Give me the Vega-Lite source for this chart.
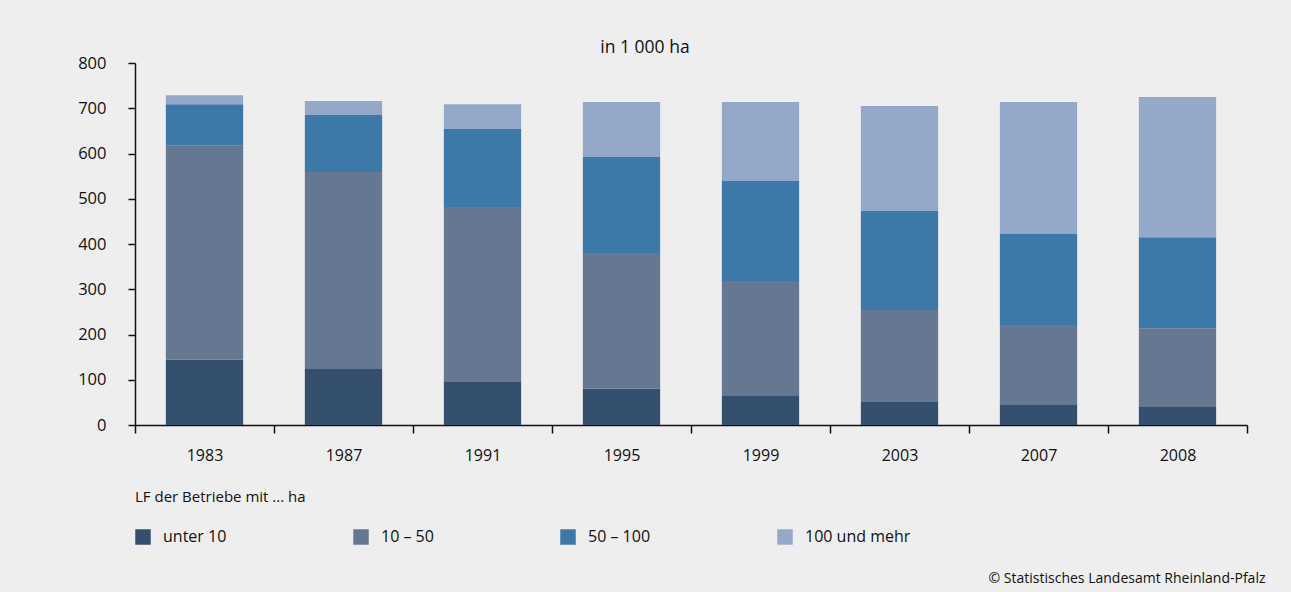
{
  "$schema": "https://vega.github.io/schema/vega-lite/v6.json",
  "autosize": {"type": "none"},
  "width": 1112,
  "height": 362,
  "padding": {"left": 135, "top": 63, "right": 44, "bottom": 167},
  "background": "#eeeeee",
  "title": {
    "text": "in 1 000 ha",
    "anchor": "middle",
    "frame": "group",
    "dx": -46,
    "offset": -15,
    "baseline": "alphabetic",
    "font": "Open Sans",
    "fontSize": 17.5,
    "fontWeight": "normal",
    "color": "#111111"
  },
  "data": {
    "values": [
      {"year": "1983", "group": "unter 10", "rank": 1, "value": 144},
      {"year": "1983", "group": "10 – 50", "rank": 2, "value": 473},
      {"year": "1983", "group": "50 – 100", "rank": 3, "value": 92},
      {"year": "1983", "group": "100 und mehr", "rank": 4, "value": 20},
      {"year": "1987", "group": "unter 10", "rank": 1, "value": 124},
      {"year": "1987", "group": "10 – 50", "rank": 2, "value": 435},
      {"year": "1987", "group": "50 – 100", "rank": 3, "value": 126},
      {"year": "1987", "group": "100 und mehr", "rank": 4, "value": 31},
      {"year": "1991", "group": "unter 10", "rank": 1, "value": 95},
      {"year": "1991", "group": "10 – 50", "rank": 2, "value": 387},
      {"year": "1991", "group": "50 – 100", "rank": 3, "value": 172},
      {"year": "1991", "group": "100 und mehr", "rank": 4, "value": 55},
      {"year": "1995", "group": "unter 10", "rank": 1, "value": 80},
      {"year": "1995", "group": "10 – 50", "rank": 2, "value": 300},
      {"year": "1995", "group": "50 – 100", "rank": 3, "value": 212},
      {"year": "1995", "group": "100 und mehr", "rank": 4, "value": 122},
      {"year": "1999", "group": "unter 10", "rank": 1, "value": 66},
      {"year": "1999", "group": "10 – 50", "rank": 2, "value": 252},
      {"year": "1999", "group": "50 – 100", "rank": 3, "value": 221},
      {"year": "1999", "group": "100 und mehr", "rank": 4, "value": 175},
      {"year": "2003", "group": "unter 10", "rank": 1, "value": 51},
      {"year": "2003", "group": "10 – 50", "rank": 2, "value": 203},
      {"year": "2003", "group": "50 – 100", "rank": 3, "value": 219},
      {"year": "2003", "group": "100 und mehr", "rank": 4, "value": 232},
      {"year": "2007", "group": "unter 10", "rank": 1, "value": 46},
      {"year": "2007", "group": "10 – 50", "rank": 2, "value": 175},
      {"year": "2007", "group": "50 – 100", "rank": 3, "value": 201},
      {"year": "2007", "group": "100 und mehr", "rank": 4, "value": 292},
      {"year": "2008", "group": "unter 10", "rank": 1, "value": 40},
      {"year": "2008", "group": "10 – 50", "rank": 2, "value": 174},
      {"year": "2008", "group": "50 – 100", "rank": 3, "value": 201},
      {"year": "2008", "group": "100 und mehr", "rank": 4, "value": 310}
    ]
  },
  "mark": {"type": "bar", "width": {"band": 0.556}},
  "encoding": {
    "x": {
      "field": "year",
      "type": "nominal",
      "scale": {"paddingInner": 0, "paddingOuter": 0},
      "axis": {
        "title": "© Statistisches Landesamt Rheinland-Pfalz",
        "titleX": 1130,
        "titleY": 157,
        "titleAlign": "right",
        "titleBaseline": "alphabetic",
        "titleFont": "Open Sans",
        "titleFontSize": 14,
        "titleFontWeight": "normal",
        "titleColor": "#111111",
        "labelAngle": 0,
        "labelFont": "Open Sans",
        "labelFontSize": 16,
        "labelColor": "#111111",
        "labelPadding": 14,
        "tickBand": "extent",
        "tickSize": 8,
        "tickWidth": 1.5,
        "tickColor": "#111111",
        "domainColor": "#111111",
        "domainWidth": 1.5
      }
    },
    "y": {
      "field": "value",
      "type": "quantitative",
      "stack": "zero",
      "scale": {"domain": [0, 800], "nice": false},
      "axis": {
        "title": null,
        "values": [0, 100, 200, 300, 400, 500, 600, 700, 800],
        "grid": false,
        "labelFont": "Open Sans",
        "labelFontSize": 16.5,
        "labelColor": "#111111",
        "labelPadding": 22,
        "tickSize": 7,
        "tickWidth": 1.5,
        "tickColor": "#111111",
        "domainColor": "#111111",
        "domainWidth": 1.5
      }
    },
    "color": {
      "field": "group",
      "type": "nominal",
      "sort": ["unter 10", "10 – 50", "50 – 100", "100 und mehr"],
      "scale": {
        "domain": ["unter 10", "10 – 50", "50 – 100", "100 und mehr"],
        "range": ["#35506f", "#667791", "#3c78a8", "#94a9ca"]
      },
      "legend": {
        "title": "LF der Betriebe mit ... ha",
        "orient": "none",
        "legendX": 0,
        "legendY": 427,
        "direction": "horizontal",
        "columns": 4,
        "columnPadding": 126,
        "titleFont": "Open Sans",
        "titleFontSize": 15,
        "titleFontWeight": "normal",
        "titleColor": "#111111",
        "titlePadding": 24,
        "labelFont": "Open Sans",
        "labelFontSize": 16,
        "labelColor": "#111111",
        "labelOffset": 12,
        "symbolType": "square",
        "symbolSize": 240,
        "symbolStrokeWidth": 0,
        "symbolOpacity": 1
      }
    },
    "order": {"field": "rank", "type": "quantitative", "sort": "ascending"}
  },
  "config": {"view": {"stroke": null}}
}
